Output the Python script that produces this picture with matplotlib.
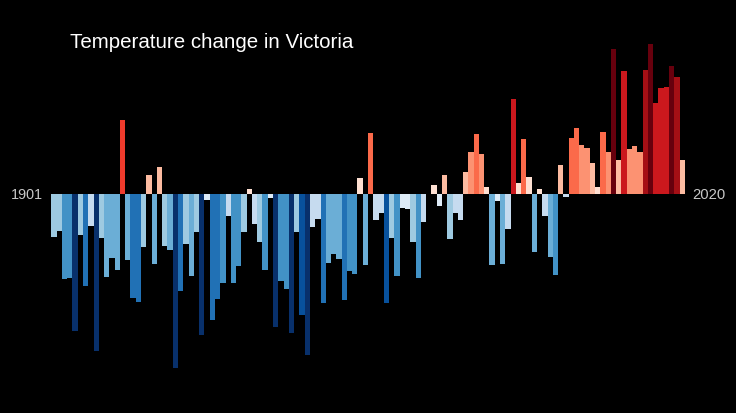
import matplotlib
matplotlib.use("Agg")
import matplotlib.pyplot as plt

# --- Data ---
years = list(range(1901, 2021))

# height of each year's bar, relative to the baseline (arbitrary units, 3 units = 1 px)
anomaly = [
    -128, -110, -253, -250, -410, -122, -276, -95, -469, -130,
    -249, -192, -226, 222, -196, -311, -322, -157, 58, -208,
    81, -154, -167, -521, -291, -148, -246, -112, -421, -18,
    -378, -313, -266, -65, -266, -216, -112, 16, -90, -143,
    -228, -10, -397, -261, -285, -415, -113, -361, -483, -97,
    -75, -325, -206, -180, -195, -318, -231, -240, 49, -211,
    183, -78, -57, -327, -130, -244, -40, -44, -144, -252,
    -83, 2, 29, -36, 57, -133, -57, -76, 68, 128,
    181, 122, 23, -213, -21, -208, -105, 287, 34, 166,
    53, -173, 16, -66, -189, -243, 87, -7, 170, 200,
    148, 139, 94, 23, 186, 128, 436, 102, 371, 135,
    144, 127, 373, 451, 274, 318, 321, 386, 352, 103,
]

# warming stripes palette, dark blue to dark red
palette = [
    "#08306b", "#08519c", "#2171b5", "#4292c6", "#6baed6", "#9ecae1", "#c6dbef", "#deebf7",
    "#fee0d2", "#fcbba1", "#fc9272", "#fb6a4a", "#ef3b2c", "#cb181d", "#a50f15", "#67000d",
]

# palette index of each year's bar
stripe_class = [
    5, 5, 3, 3, 0, 5, 2, 6, 0, 5,
    4, 4, 4, 12, 4, 2, 2, 5, 9, 4,
    9, 5, 4, 0, 2, 5, 4, 5, 0, 7,
    2, 2, 3, 6, 3, 3, 5, 8, 6, 5,
    3, 7, 0, 3, 3, 0, 5, 1, 0, 6,
    6, 2, 4, 4, 4, 2, 3, 3, 8, 4,
    11, 6, 6, 1, 5, 3, 7, 7, 5, 3,
    6, 8, 8, 7, 9, 5, 6, 6, 9, 10,
    11, 10, 8, 4, 7, 4, 6, 13, 8, 11,
    8, 4, 8, 6, 4, 3, 9, 6, 11, 11,
    10, 10, 9, 8, 11, 10, 15, 9, 13, 10,
    10, 10, 14, 15, 13, 13, 13, 15, 14, 9,
]

colors = [palette[c] for c in stripe_class]

# --- Figure ---
fig = plt.figure(figsize=(7.36, 4.13), dpi=100, facecolor="black")
ax = fig.add_axes([51.3 / 736, 0, (684.8 - 51.3) / 736, 1], facecolor="black")

ax.bar(years, anomaly, width=1.0, color=colors, linewidth=0)

ax.set_xlim(1900.5, 2020.5)
ax.set_ylim(-656, 583)
ax.axis("off")

# --- Text ---
font = ["Liberation Sans", "DejaVu Sans"]
fig.text(70 / 736, 1 - 43 / 413, "Temperature change in Victoria", color="white",
         fontsize=14.75, family=font, ha="left", va="center")
fig.text(27 / 736, 1 - 195 / 413, "1901", color="#c8c8c8",
         fontsize=10.4, family=font, ha="center", va="center")
fig.text(708.5 / 736, 1 - 195 / 413, "2020", color="#c8c8c8",
         fontsize=10.6, family=font, ha="center", va="center")

fig.savefig("out.png", dpi=100, facecolor="black")
